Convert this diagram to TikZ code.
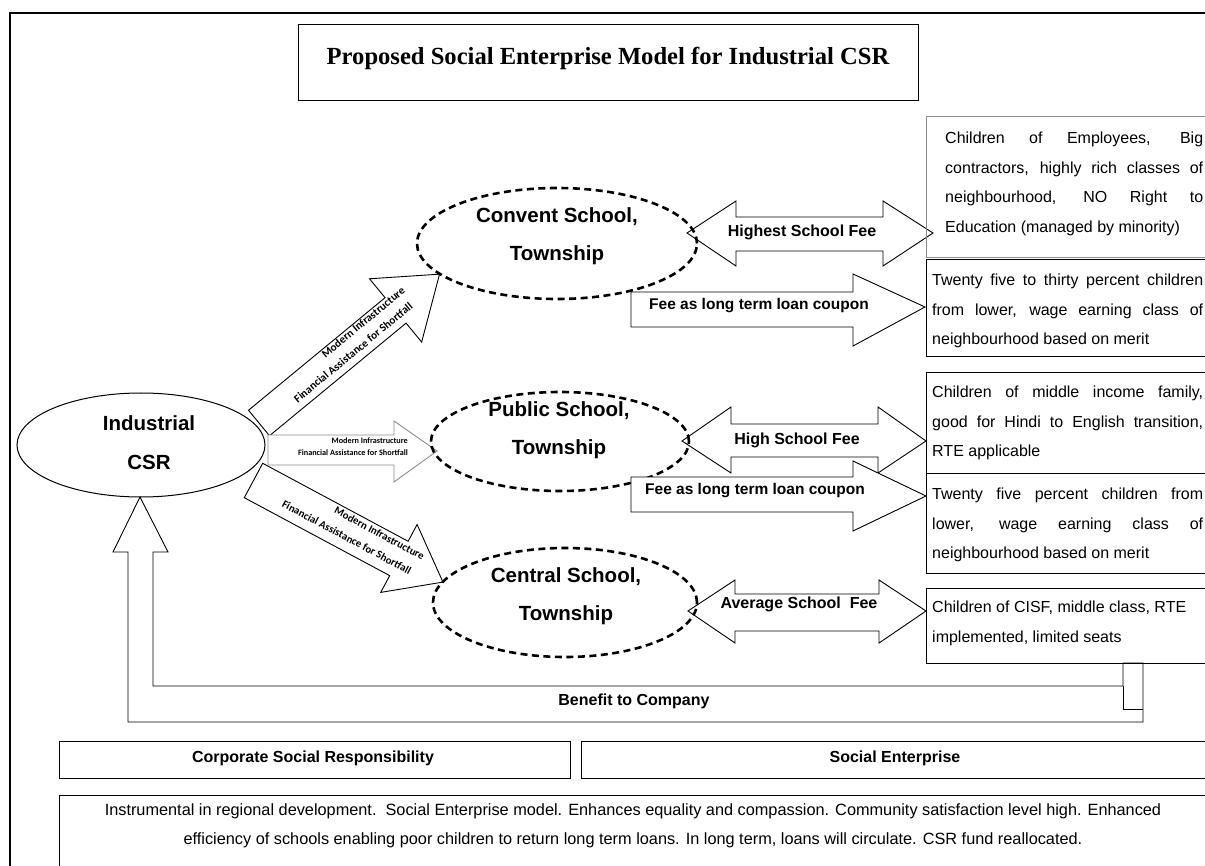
\documentclass[tikz,border=0pt]{standalone}
\usepackage{fontspec}
\setmainfont{Liberation Sans}
\newfontfamily\titlefont{Liberation Serif}
\newfontfamily\calfont{Carlito}
\usetikzlibrary{shapes.geometric}

\tikzset{
  frameline/.style={draw=black, line width=1.8pt},
  plainbox/.style={draw=black, line width=1pt},
  greybox/.style={draw=black!45, line width=1pt},
  blockarrow/.style={draw=black, fill=white, line width=0.9pt, line join=miter},
  greyarrow/.style={draw=black!45, fill=white, line width=0.9pt, line join=miter},
  schoolell/.style={ellipse, draw=black, line width=2.6pt, dash pattern=on 7pt off 4.5pt,
    inner sep=0pt, outer sep=0pt},
  schooltxt/.style={align=center, inner sep=0pt, font=\bfseries\fontsize{20.5}{38}\selectfont},
  feetxt/.style={inner sep=0pt, font=\bfseries\fontsize{16}{19}\selectfont},
  boxtxt/.style={anchor=north west, align=left, inner sep=0pt, font=\fontsize{16}{29.5}\selectfont},
  smalltxt/.style={inner sep=0pt, font=\calfont\bfseries\fontsize{8.2}{10}\selectfont},
  diagtxt/.style={inner sep=0pt, transform shape, font=\calfont\bfseries\fontsize{11.2}{13}\selectfont},
}

\begin{document}
\begin{tikzpicture}[x=1pt, y=-1pt]
\useasboundingbox (0,0) rectangle (1205,866);
\clip (0,0) rectangle (1205,866);

% outer frame
\draw[frameline] (1215,13) -- (10,13) -- (10,880);

% title
\draw[plainbox] (298,25) rectangle (918,101);
\node[inner sep=0pt, font=\titlefont\bfseries\fontsize{24.6}{28}\selectfont] (title) at (608,58)
  {Proposed Social Enterprise Model for Industrial CSR};

% industrial CSR ellipse background
\node[ellipse, fill=white, minimum width=248pt, minimum height=104pt, inner sep=0pt] (csr) at (141,445) {};

% benefit loop arrow back to the CSR ellipse
\draw[blockarrow] (128,722) -- (1143,722) -- (1143,663) -- (1123,663) -- (1123,686)
  -- (153,686) -- (153,552) -- (168,552) -- (140,497) -- (113,552) -- (128,552) -- cycle;
\draw[line width=0.9pt] (1123,686) -- (1123,709) -- (1143,709);
\node[feetxt] (benefit) at (634,701) {Benefit to Company};

% arrow to convent school
\begin{scope}[shift={(259,423)}, rotate=39.5]
  \draw[blockarrow] (0,16.5) -- (177,16.5) -- (177,41) -- (234,0) -- (177,-41)
    -- (177,-16.5) -- (0,-16.5) -- cycle;
  \node[diagtxt] (convA) at (144.5,-11.5) {Modern Infrastructure};
  \node[diagtxt] (convB) at (117.5,5.5) {Financial Assistance for Shortfall};
\end{scope}

% arrow to central school
\begin{scope}[shift={(253.5,480.5)}, rotate=-28.2]
  \draw[blockarrow] (0,19.5) -- (165,19.5) -- (165,38.5) -- (215,0) -- (165,-38.5)
    -- (165,-19.5) -- (0,-19.5) -- cycle;
  \node[diagtxt, font=\calfont\bfseries\fontsize{10.8}{13}\selectfont] (centA) at (136,-13) {Modern Infrastructure};
  \node[diagtxt, font=\calfont\bfseries\fontsize{10.8}{13}\selectfont] (centB) at (109,6) {Financial Assistance for Shortfall};
\end{scope}

% arrow to public school
\draw[greyarrow] (268,435) -- (394,435) -- (394,421) -- (437,451) -- (394,482)
  -- (394,465) -- (268,465) -- cycle;
\node[smalltxt, anchor=east] (pubA) at (408,441) {Modern Infrastructure};
\node[smalltxt, anchor=east] (pubB) at (408,453) {Financial Assistance for Shortfall};

% CSR ellipse outline and label
\draw[line width=1pt] (csr.center) ellipse [x radius=124, y radius=52];
\node[schooltxt, font=\bfseries\fontsize{20.5}{39}\selectfont] (csrlbl) at (149,443) {Industrial\\CSR};

% fee double arrows
\draw[blockarrow] (687,233) -- (736,201) -- (736,217) -- (883,217) -- (883,201) -- (933,233)
  -- (883,266) -- (883,251) -- (736,251) -- (736,266) -- cycle;
\node[feetxt] (fee1) at (802,232) {Highest School Fee};
\draw[blockarrow] (682,441) -- (731,407) -- (731,424) -- (878,424) -- (878,407) -- (926,441)
  -- (878,473) -- (878,457) -- (731,457) -- (731,473) -- cycle;
\node[feetxt] (fee2) at (797,440) {High School Fee};
\draw[blockarrow] (688,611) -- (735,580) -- (735,594) -- (879,594) -- (879,580) -- (926,611)
  -- (879,643) -- (879,631) -- (735,631) -- (735,643) -- cycle;
\node[feetxt] (fee3) at (799,604) {Average School\ \ Fee};

% schools
\node[schoolell, minimum width=280pt, minimum height=111pt] (convent) at (557,243.5) {};
\node[schoolell, minimum width=258pt, minimum height=99pt] (public) at (560,441.5) {};
\node[schoolell, minimum width=264pt, minimum height=109pt] (central) at (565,602.5) {};
\node[schooltxt] (conventlbl) at (557,236) {Convent School,\\Township};
\node[schooltxt] (publiclbl) at (559,430) {Public School,\\Township};
\node[schooltxt] (centrallbl) at (566,596.5) {Central School,\\Township};

% loan coupon arrows
\draw[blockarrow] (631,292) -- (853,292) -- (853,274) -- (925,307) -- (853,346)
  -- (853,327) -- (631,327) -- cycle;
\node[feetxt, font=\bfseries\fontsize{15.5}{19}\selectfont] (loan1) at (759,306) {Fee as long term loan coupon};
\draw[blockarrow] (631,477) -- (853,477) -- (853,461) -- (926,496) -- (853,531)
  -- (853,512) -- (631,512) -- cycle;
\node[feetxt, font=\bfseries\fontsize{15.5}{19}\selectfont] (loan2) at (755,491) {Fee as long term loan coupon};

% beneficiary boxes
\draw[greybox] (926,117) rectangle (1215,258);
\node[boxtxt] (ben1) at (945,132) {\makebox[258pt][s]{Children of Employees, Big}\\
  \makebox[258pt][s]{contractors, highly rich classes of}\\
  \makebox[258pt][s]{neighbourhood, NO Right to}\\
  Education (managed by minority)};
\draw[plainbox] (926,260) rectangle (1215,357);
\node[boxtxt] (ben2) at (932,274) {\makebox[271pt][s]{Twenty five to thirty percent children}\\
  \makebox[271pt][s]{from lower, wage earning class of}\\
  neighbourhood based on merit};
\draw[plainbox] (926,373) rectangle (1215,473);
\node[boxtxt] (ben3) at (932,386) {\makebox[271pt][s]{Children of middle income family,}\\
  \makebox[271pt][s]{good for Hindi to English transition,}\\
  RTE applicable};
\draw[plainbox] (926,473) rectangle (1215,573);
\node[boxtxt] (ben4) at (932,488) {\makebox[271pt][s]{Twenty five percent children from}\\
  \makebox[271pt][s]{lower, wage earning class of}\\
  neighbourhood based on merit};
\draw[plainbox] (926,588) rectangle (1215,663);
\node[boxtxt] (ben5) at (932,601) {Children of CISF, middle class, RTE\\
  implemented, limited seats};

% bottom panels
\draw[plainbox] (59,741) rectangle (570,778);
\node[feetxt] (csrpanel) at (313,758) {Corporate Social Responsibility};
\draw[plainbox] (581,741) rectangle (1215,778);
\node[feetxt] (separel) at (895,758) {Social Enterprise};
\draw[plainbox] (59,795) rectangle (1215,880);
\node[align=center, inner sep=0pt, font=\fontsize{16.3}{29}\selectfont] (summary) at (633,825.5)
  {Instrumental in regional development.\ \ Social Enterprise model. Enhances equality and compassion. Community satisfaction level high. Enhanced\\
   efficiency of schools enabling poor children to return long term loans. In long term, loans will circulate. CSR fund reallocated.};

\end{tikzpicture}
\end{document}
